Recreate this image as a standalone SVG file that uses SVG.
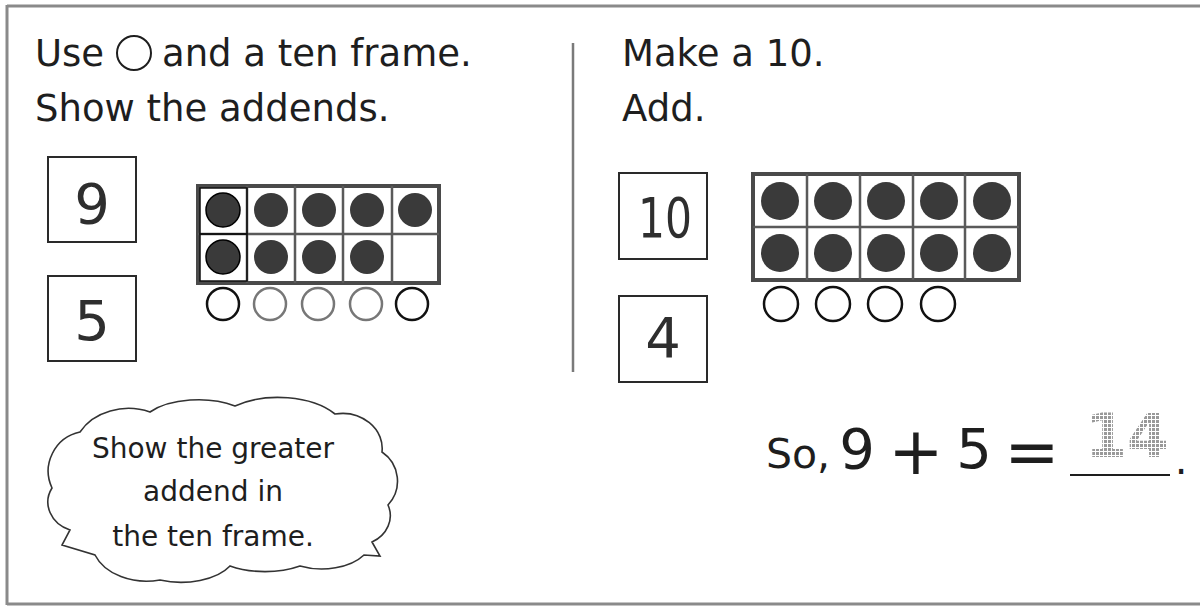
<svg xmlns="http://www.w3.org/2000/svg" width="1200" height="607" viewBox="0 0 1200 607">
<style>
.t{font-family:"DejaVu Sans","Liberation Sans",sans-serif;fill:#1e1e1e}
.h{font-size:37px}
.c{font-size:28px;text-anchor:middle}
.num{font-size:56px;text-anchor:middle;fill:#2e2e2e}
.box{fill:#fff;stroke:#2a2a2a;stroke-width:2}
.frame{fill:#fff;stroke:#4a4a4a;stroke-width:4}
.grid{stroke:#5a5a5a;stroke-width:2.5;fill:none}
.dot{fill:#3a3a3a}
.cnt{fill:#fff;stroke:#111;stroke-width:2.5}
.cntg{fill:#fff;stroke:#777;stroke-width:2.5}
</style>
<defs>
<pattern id="dots" width="4" height="4" patternUnits="userSpaceOnUse">
<rect x="0" y="0" width="3" height="3" fill="#999"/>
</pattern>
</defs>
<rect width="1200" height="607" fill="#fff"/>
<g id="border" stroke="#8a8a8a" stroke-width="3" fill="none">
<line x1="7" y1="6" x2="1200" y2="6"/>
<line x1="7" y1="5" x2="7" y2="605"/>
<line x1="7" y1="604" x2="1200" y2="604"/>
</g>
<line id="divider" x1="573" y1="43" x2="573" y2="372" stroke="#7a7a7a" stroke-width="2.5"/>

<g id="instructions-left">
<text class="t h" x="35" y="66">Use</text>
<circle cx="134" cy="53" r="17" fill="none" stroke="#1e1e1e" stroke-width="2"/>
<text class="t h" x="162" y="66">and a ten frame.</text>
<text class="t h" x="35" y="121">Show the addends.</text>
</g>
<g id="instructions-right">
<text class="t h" x="622" y="66">Make a 10.</text>
<text class="t h" x="622" y="121">Add.</text>
</g>

<g id="box-9"><rect class="box" x="48" y="157" width="88" height="85"/><text class="t num" x="92" y="223">9</text></g>
<g id="box-5"><rect class="box" x="48" y="276" width="88" height="85"/><text class="t num" x="92" y="340">5</text></g>
<g id="box-10"><rect class="box" x="619" y="173" width="88" height="86"/><text class="t num" x="665" y="237" textLength="54" lengthAdjust="spacingAndGlyphs">10</text></g>
<g id="box-4"><rect class="box" x="619" y="296" width="88" height="86"/><text class="t num" x="663" y="357">4</text></g>

<g id="tenframe-left">
<rect class="frame" x="198" y="186" width="241" height="97"/>
<path class="grid" d="M247 186V283M295 186V283M343 186V283M392 186V283M198 234H439"/>
<rect x="200" y="188" width="47" height="46" fill="none" stroke="#111" stroke-width="1.5"/>
<rect x="200" y="234" width="47" height="47" fill="none" stroke="#111" stroke-width="1.5"/>
<circle class="dot" cx="223" cy="210" r="17" stroke="#000" stroke-width="1.5"/>
<circle class="dot" cx="271" cy="210" r="17"/>
<circle class="dot" cx="319" cy="210" r="17"/>
<circle class="dot" cx="367" cy="210" r="17"/>
<circle class="dot" cx="415" cy="210" r="17"/>
<circle class="dot" cx="223" cy="257" r="17" stroke="#000" stroke-width="1.5"/>
<circle class="dot" cx="271" cy="257" r="17"/>
<circle class="dot" cx="319" cy="257" r="17"/>
<circle class="dot" cx="367" cy="257" r="17"/>
</g>
<g id="counters-left">
<circle class="cnt" cx="223" cy="304" r="16"/>
<circle class="cntg" cx="270" cy="304" r="16"/>
<circle class="cntg" cx="318" cy="304" r="16"/>
<circle class="cntg" cx="366" cy="304" r="16"/>
<circle class="cnt" cx="412" cy="304" r="16"/>
</g>

<g id="tenframe-right">
<rect class="frame" x="753" y="174" width="266" height="106"/>
<path class="grid" d="M807 174V280M860 174V280M913 174V280M965 174V280M753 227H1019"/>
<circle class="dot" cx="780" cy="201" r="19"/>
<circle class="dot" cx="833" cy="201" r="19"/>
<circle class="dot" cx="886" cy="201" r="19"/>
<circle class="dot" cx="939" cy="201" r="19"/>
<circle class="dot" cx="992" cy="201" r="19"/>
<circle class="dot" cx="780" cy="253" r="19"/>
<circle class="dot" cx="833" cy="253" r="19"/>
<circle class="dot" cx="886" cy="253" r="19"/>
<circle class="dot" cx="939" cy="253" r="19"/>
<circle class="dot" cx="992" cy="253" r="19"/>
</g>
<g id="counters-right">
<circle class="cnt" cx="781" cy="304" r="17"/>
<circle class="cnt" cx="833" cy="304" r="17"/>
<circle class="cnt" cx="885" cy="304" r="17"/>
<circle class="cnt" cx="938" cy="304" r="17"/>
</g>

<g id="cloud">
<path d="M52 488 A40 40 0 0 1 80 432 A55 45 0 0 1 150 412 A60 30 0 0 1 235 406 A70 40 0 0 1 335 414 A40 35 0 0 1 382 452 A35 35 0 0 1 388 505 A35 30 0 0 1 372 542 L380 556 L364 555 A50 30 0 0 1 300 566 A60 30 0 0 1 230 566 A55 30 0 0 1 160 580 A55 40 0 0 1 95 555 L62 545 L70 530 A35 30 0 0 1 52 488 Z" fill="#fff" stroke="#333" stroke-width="1.6"/>
<text class="t c" x="213" y="458">Show the greater</text>
<text class="t c" x="213" y="501">addend in</text>
<text class="t c" x="213" y="546">the ten frame.</text>
</g>

<g id="equation">
<text class="t" x="766" y="468" style="font-size:41px">So,</text>
<text class="t" x="857" y="468" style="font-size:56px;text-anchor:middle">9</text>
<text class="t" x="916" y="474" style="font-size:66px;text-anchor:middle">+</text>
<text class="t" x="974" y="468" style="font-size:56px;text-anchor:middle">5</text>
<text class="t" x="1032" y="474" style="font-size:66px;text-anchor:middle">=</text>
<line x1="1070" y1="475" x2="1170" y2="475" stroke="#1e1e1e" stroke-width="2"/>
<text class="t" x="1181" y="474" style="font-size:40px;text-anchor:middle">.</text>
<text x="1127" y="457" style="font-family:'DejaVu Sans',sans-serif;font-size:60px;font-weight:bold;text-anchor:middle" fill="url(#dots)">14</text>
</g>
</svg>
